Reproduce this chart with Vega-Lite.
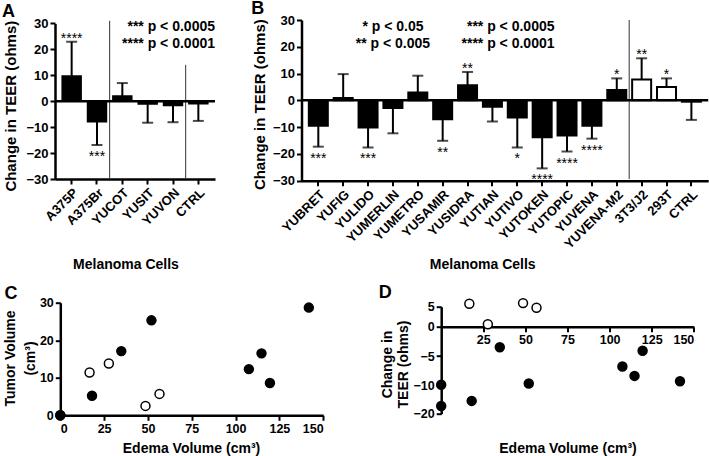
{
  "$schema": "https://vega.github.io/schema/vega-lite/v6.json",
  "padding": {"left": 2, "top": 0, "right": 0, "bottom": 0},
  "columns": 2,
  "spacing": {"row": 121.7, "column": 86.5},
  "bounds": "flush",
  "config": {
    "view": {"stroke": null},
    "font": "Liberation Sans",
    "axis": {"domainColor": "black", "domainWidth": 2.5, "tickColor": "black", "tickWidth": 2, "tickSize": 5, "labelColor": "black", "labelFontWeight": "bold", "labelFontSize": 13, "labelFont": "Liberation Sans", "titleFont": "Liberation Sans", "titleFontWeight": "bold", "titleFontSize": 14, "titleColor": "black", "grid": false, "labelPadding": 2, "labelOverlap": false},
    "title": {"fontSize": 18, "fontWeight": "bold", "anchor": "start", "frame": "group", "color": "black", "font": "Liberation Sans", "offset": 2, "baseline": "alphabetic"},
    "text": {"font": "Liberation Sans", "color": "black"}
  },
  "datasets": {
    "pts": [
      {"edema": 0, "tumor": 0, "teer": -9.9, "open": "filled"},
      {"edema": 0, "tumor": 0, "teer": -17.3, "open": "filled"},
      {"edema": 18.1, "tumor": 5.2, "teer": -15.5, "open": "filled"},
      {"edema": 34.8, "tumor": 17.1, "teer": -3.5, "open": "filled"},
      {"edema": 52.0, "tumor": 25.3, "teer": -9.7, "open": "filled"},
      {"edema": 107.6, "tumor": 12.3, "teer": -6.8, "open": "filled"},
      {"edema": 114.8, "tumor": 16.5, "teer": -8.4, "open": "filled"},
      {"edema": 119.6, "tumor": 8.6, "teer": -4.1, "open": "filled"},
      {"edema": 141.8, "tumor": 28.7, "teer": -9.3, "open": "filled"},
      {"edema": 16.7, "tumor": 11.4, "teer": 5.75, "open": "open"},
      {"edema": 27.7, "tumor": 13.8, "teer": 0.6, "open": "open"},
      {"edema": 48.6, "tumor": 2.5, "teer": 5.9, "open": "open"},
      {"edema": 56.6, "tumor": 5.7, "teer": 4.75, "open": "open"}
    ]
  },
  "concat": [
    {
      "width": 160, "height": 160.7,
      "title": {"text": "A", "dx": -53, "dy": 6},
      "resolve": {"axis": {"y": "independent"}},
      "data": {"values": [
        {"cell": "A375P", "value": 9.7, "err": 22.9, "star": "****", "kind": "m"},
        {"cell": "A375Br", "value": -7.9, "err": -16.9, "star": "***", "kind": "m"},
        {"cell": "YUCOT", "value": 2.0, "err": 7.0, "star": "", "kind": "m"},
        {"cell": "YUSIT", "value": -1.1, "err": -8.3, "star": "", "kind": "m"},
        {"cell": "YUVON", "value": -1.7, "err": -8.1, "star": "", "kind": "m"},
        {"cell": "CTRL", "value": -1.0, "err": -7.6, "star": "", "kind": "m"}
      ]},
      "layer": [
        {
          "mark": {"type": "bar", "stroke": "black", "strokeWidth": 1.5},
          "encoding": {
            "x": {"field": "cell", "type": "nominal", "scale": {"type": "band", "domain": ["A375P", "A375Br", "YUCOT", "YUSIT", "YUVON", "CTRL"], "paddingInner": 0.252, "paddingOuter": 0.283},
              "axis": {"labelAngle": -45, "offset": -1.7, "title": "Melanoma Cells", "titleX": 70.5, "titleY": 89.7, "titleBaseline": "alphabetic"}},
            "y": {"field": "value", "type": "quantitative", "scale": {"domain": [-30, 30], "range": [159, 3.4], "nice": false},
              "axis": {"values": [-30, -20, -10, 0, 10, 20, 30], "labelOverlap": false, "title": "Change in TEER (ohms)", "titleFontSize": 15, "titleX": -45, "titleY": 85.7, "titleBaseline": "middle"}},
            "y2": {"datum": 0},
            "fill": {"field": "kind", "type": "nominal", "scale": {"domain": ["m", "c"], "range": ["black", "white"]}, "legend": null}
          }
        },
        {
          "mark": {"type": "rule", "strokeWidth": 2, "color": "black"},
          "encoding": {"x": {"field": "cell", "type": "nominal"}, "y": {"field": "value", "type": "quantitative", "axis": null}, "y2": {"field": "err"}}
        },
        {
          "mark": {"type": "tick", "size": 11, "thickness": 2, "color": "black"},
          "encoding": {"x": {"field": "cell", "type": "nominal"}, "y": {"field": "err", "type": "quantitative", "axis": null}}
        },
        {
          "transform": [{"filter": "datum.star != '' && datum.value > 0"}],
          "mark": {"type": "text", "baseline": "alphabetic", "fontSize": 14, "dy": 1},
          "encoding": {"x": {"field": "cell", "type": "nominal"}, "y": {"field": "err", "type": "quantitative", "axis": null}, "text": {"field": "star"}}
        },
        {
          "transform": [{"filter": "datum.star != '' && datum.value < 0"}],
          "mark": {"type": "text", "baseline": "alphabetic", "fontSize": 14, "dy": 16},
          "encoding": {"x": {"field": "cell", "type": "nominal"}, "y": {"field": "err", "type": "quantitative", "axis": null}, "text": {"field": "star"}}
        },
        {
          "data": {"values": [{"cell": "A375Br", "top": 31, "bot": -30}, {"cell": "YUVON", "top": 14, "bot": -30}]},
          "mark": {"type": "rule", "color": "#333333", "strokeWidth": 1},
          "encoding": {"x": {"field": "cell", "type": "nominal", "bandPosition": 1.168}, "y": {"field": "top", "type": "quantitative", "axis": null}, "y2": {"field": "bot"}}
        },
        {
          "data": {"values": [{"z": 0}]},
          "mark": {"type": "rule", "strokeWidth": 2.5, "color": "black"},
          "encoding": {"y": {"field": "z", "type": "quantitative", "axis": null}}
        },
        {
          "data": {"values": [{"t": "*** p < 0.0005", "v": 28.7}, {"t": "**** p < 0.0001", "v": 22.1}]},
          "mark": {"type": "text", "align": "right", "baseline": "middle", "fontSize": 14, "fontWeight": "bold"},
          "encoding": {"x": {"value": "width"}, "y": {"field": "v", "type": "quantitative", "axis": null}, "text": {"field": "t"}}
        }
      ]
    },
    {
      "width": 406.7, "height": 160.7,
      "title": {"text": "B", "dx": -50.3, "dy": 6},
      "resolve": {"axis": {"y": "independent"}},
      "data": {"values": [
        {"cell": "YUBRET", "value": -9.5, "err": -17.3, "star": "***", "kind": "m"},
        {"cell": "YUFIG", "value": 0.9, "err": 9.8, "star": "", "kind": "m"},
        {"cell": "YULIDO", "value": -10.1, "err": -17.6, "star": "***", "kind": "m"},
        {"cell": "YUMERLIN", "value": -2.9, "err": -12.3, "star": "", "kind": "m"},
        {"cell": "YUMETRO", "value": 2.9, "err": 9.2, "star": "", "kind": "m"},
        {"cell": "YUSAMIR", "value": -7.1, "err": -15.1, "star": "**", "kind": "m"},
        {"cell": "YUSIDRA", "value": 5.6, "err": 10.6, "star": "**", "kind": "m"},
        {"cell": "YUTIAN", "value": -2.4, "err": -7.9, "star": "", "kind": "m"},
        {"cell": "YUTIVO", "value": -6.4, "err": -17.6, "star": "*", "kind": "m"},
        {"cell": "YUTOKEN", "value": -13.8, "err": -25.4, "star": "****", "kind": "m"},
        {"cell": "YUTOPIC", "value": -13.1, "err": -19.1, "star": "****", "kind": "m"},
        {"cell": "YUVENA", "value": -9.5, "err": -14.3, "star": "****", "kind": "m"},
        {"cell": "YUVENA-M2", "value": 3.9, "err": 8.2, "star": "*", "kind": "m"},
        {"cell": "3T3/J2", "value": 7.8, "err": 15.7, "star": "**", "kind": "c"},
        {"cell": "293T", "value": 5.0, "err": 8.2, "star": "*", "kind": "c"},
        {"cell": "CTRL", "value": -0.5, "err": -7.3, "star": "", "kind": "m"}
      ]},
      "layer": [
        {
          "mark": {"type": "bar", "stroke": "black", "strokeWidth": 2},
          "encoding": {
            "x": {"field": "cell", "type": "nominal", "scale": {"type": "band", "domain": ["YUBRET", "YUFIG", "YULIDO", "YUMERLIN", "YUMETRO", "YUSAMIR", "YUSIDRA", "YUTIAN", "YUTIVO", "YUTOKEN", "YUTOPIC", "YUVENA", "YUVENA-M2", "3T3/J2", "293T", "CTRL"], "paddingInner": 0.236, "paddingOuter": 0.294},
              "axis": {"labelAngle": -45, "title": "Melanoma Cells", "titleX": 180.7, "titleY": 88, "titleBaseline": "alphabetic"}},
            "y": {"field": "value", "type": "quantitative", "scale": {"domain": [-30, 30], "nice": false},
              "axis": {"values": [-30, -20, -10, 0, 10, 20, 30], "labelOverlap": false, "title": "Change in TEER (ohms)", "titleFontSize": 15, "titleX": -42, "titleY": 84.2, "titleBaseline": "middle"}},
            "y2": {"datum": 0},
            "fill": {"field": "kind", "type": "nominal", "scale": {"domain": ["m", "c"], "range": ["black", "white"]}, "legend": null}
          }
        },
        {
          "mark": {"type": "rule", "strokeWidth": 2, "color": "black"},
          "encoding": {"x": {"field": "cell", "type": "nominal"}, "y": {"field": "value", "type": "quantitative", "axis": null}, "y2": {"field": "err"}}
        },
        {
          "mark": {"type": "tick", "size": 11, "thickness": 2, "color": "black"},
          "encoding": {"x": {"field": "cell", "type": "nominal"}, "y": {"field": "err", "type": "quantitative", "axis": null}}
        },
        {
          "transform": [{"filter": "datum.star != '' && datum.value > 0"}],
          "mark": {"type": "text", "baseline": "alphabetic", "fontSize": 14, "dy": 1},
          "encoding": {"x": {"field": "cell", "type": "nominal"}, "y": {"field": "err", "type": "quantitative", "axis": null}, "text": {"field": "star"}}
        },
        {
          "transform": [{"filter": "datum.star != '' && datum.value < 0"}],
          "mark": {"type": "text", "baseline": "alphabetic", "fontSize": 14, "dy": 16},
          "encoding": {"x": {"field": "cell", "type": "nominal"}, "y": {"field": "err", "type": "quantitative", "axis": null}, "text": {"field": "star"}}
        },
        {
          "data": {"values": [{"cell": "YUVENA-M2", "top": 30, "bot": -29.4}]},
          "mark": {"type": "rule", "color": "#333333", "strokeWidth": 1},
          "encoding": {"x": {"field": "cell", "type": "nominal", "bandPosition": 1.154}, "y": {"field": "top", "type": "quantitative", "axis": null}, "y2": {"field": "bot"}}
        },
        {
          "data": {"values": [{"z": 0}]},
          "mark": {"type": "rule", "strokeWidth": 2.5, "color": "black"},
          "encoding": {"y": {"field": "z", "type": "quantitative", "axis": null}}
        },
        {
          "data": {"values": [{"t": "* p < 0.05", "cell": "YUMERLIN", "v": 27.5}, {"t": "** p < 0.005", "cell": "YUMERLIN", "v": 21.0}]},
          "mark": {"type": "text", "align": "center", "baseline": "middle", "fontSize": 14, "fontWeight": "bold"},
          "encoding": {"x": {"field": "cell", "type": "nominal"}, "y": {"field": "v", "type": "quantitative", "axis": null}, "text": {"field": "t"}}
        },
        {
          "data": {"values": [{"t": "*** p < 0.0005", "cell": "YUTOKEN", "v": 27.5}, {"t": "**** p < 0.0001", "cell": "YUTOKEN", "v": 21.0}]},
          "mark": {"type": "text", "align": "right", "baseline": "middle", "fontSize": 14, "fontWeight": "bold"},
          "encoding": {"x": {"field": "cell", "type": "nominal", "bandPosition": 1.15}, "y": {"field": "v", "type": "quantitative", "axis": null}, "text": {"field": "t"}}
        }
      ]
    },
    {
      "width": 160, "height": 112.6,
      "title": {"text": "C", "dx": -50.5, "dy": 8},
      "data": {"name": "pts"},
      "mark": {"type": "point", "shape": "circle", "filled": true, "size": 80, "stroke": "black", "strokeWidth": 1.5, "opacity": 1},
      "encoding": {
        "x": {"field": "edema", "type": "quantitative", "scale": {"domain": [0, 150], "range": [5.3, 268.2], "nice": false, "zero": false},
          "axis": {"values": [0, 25, 50, 75, 100, 125, 150], "labelFontSize": 12.5, "labelAngle": 0, "title": "Edema Volume (cm³)", "titleX": 136, "titleY": 37.4, "titleBaseline": "alphabetic"}},
        "y": {"field": "tumor", "type": "quantitative", "scale": {"domain": [0, 30], "nice": false},
          "axis": {"values": [0, 10, 20, 30], "offset": -5.3, "labelFontSize": 12.5, "title": ["Tumor Volume", "(cm³)"], "titleX": -50.3, "titleY": 55.3, "titleBaseline": "middle", "titleLineHeight": 20}},
        "fill": {"field": "open", "type": "nominal", "scale": {"domain": ["filled", "open"], "range": ["black", "white"]}, "legend": null}
      }
    },
    {
      "width": 406.7, "height": 111,
      "title": {"text": "D", "dx": 77.3, "dy": 8},
      "data": {"name": "pts"},
      "mark": {"type": "point", "shape": "circle", "filled": true, "size": 80, "stroke": "black", "strokeWidth": 1.5, "opacity": 1},
      "encoding": {
        "x": {"field": "edema", "type": "quantitative", "scale": {"domain": [0, 150], "range": [139.7, 392.3], "nice": false, "zero": false},
          "axis": {"values": [25, 50, 75, 100, 125, 150], "offset": -87, "labelFontSize": 12.5, "labelAngle": 0, "title": "Edema Volume (cm³)", "titleX": 266, "titleY": 126, "titleBaseline": "alphabetic"}},
        "y": {"field": "teer", "type": "quantitative", "scale": {"domain": [-20, -10, 0, 5], "range": [111, 82.6, 24, 4], "nice": false, "zero": false},
          "axis": {"values": [-20, -10, -5, 0, 5], "offset": -139.7, "labelFontSize": 12.5, "title": ["Change in", "TEER (ohms)"], "titleX": -54, "titleY": 61.3, "titleBaseline": "middle", "titleLineHeight": 16.7}},
        "fill": {"field": "open", "type": "nominal", "scale": {"domain": ["filled", "open"], "range": ["black", "white"]}, "legend": null}
      }
    }
  ]
}
